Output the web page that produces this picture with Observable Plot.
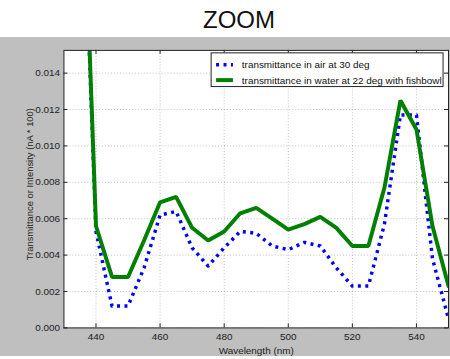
<!DOCTYPE html>
<html>
<head>
<meta charset="utf-8">
<script src="https://cdn.jsdelivr.net/npm/d3@7"></script>
<script src="https://cdn.jsdelivr.net/npm/@observablehq/plot@0.6"></script>
<style>
  html, body { margin: 0; padding: 0; background: #fff; }
  #wrap { position: relative; width: 450px; height: 359px; overflow: hidden; background: #fff; font-family: "Liberation Sans", Arial, sans-serif; }
  #title { position: absolute; left: 0; top: 0; width: 478px; height: 37px; text-align: center; font-size: 24px; line-height: 24px; padding-top: 8px; box-sizing: border-box; color: #111; }
  #chart { position: absolute; left: 0; top: 37px; }
</style>
</head>
<body>
<div id="wrap">
  <div id="title">ZOOM</div>
  <div id="chart"></div>
</div>
<script>
// Measured spectra, wavelength in nm
const wavelengths = [435, 440, 445, 450, 455, 460, 465, 470, 475, 480, 485, 490, 495, 500, 505, 510, 515, 520, 525, 530, 535, 540, 545, 550];
const airValues   = [0.0290, 0.0053, 0.0012, 0.0012, 0.0033, 0.0062, 0.0064, 0.0044, 0.0034, 0.0044, 0.0053, 0.0052, 0.0045, 0.0043, 0.0047, 0.0045, 0.0033, 0.0023, 0.0023, 0.0057, 0.0117, 0.0117, 0.0038, 0.0005];
const waterValues = [0.0300, 0.0056, 0.0028, 0.0028, 0.0048, 0.0069, 0.0072, 0.0055, 0.0048, 0.0053, 0.0063, 0.0066, 0.0060, 0.0054, 0.0057, 0.0061, 0.0055, 0.0045, 0.0045, 0.0077, 0.0125, 0.0109, 0.0056, 0.0023];

const seriesNames = ["transmittance in air at 30 deg", "transmittance in water at 22 deg with fishbowl"];
const xTicks = [440, 460, 480, 500, 520, 540];
const yTicks = [0, 0.002, 0.004, 0.006, 0.008, 0.010, 0.012, 0.014];
const xLabel = "Wavelength (nm)";
const yLabel = "Transmittance or Intensity (nA * 100)";

const air = wavelengths.map((w, i) => ({w, v: airValues[i]}));
const water = wavelengths.map((w, i) => ({w, v: waterValues[i]}));

const W = 454, H = 322;
const mTop = 13, mBottom = 29, mLeft = 64, mRight = 2;
const innerH = H - mTop - mBottom, innerW = W - mLeft - mRight;
const gridStyle = {stroke: "#b0b0b0", strokeOpacity: 1, strokeWidth: 0.8, strokeDasharray: "1,2"};
const tickLen = 4;
const airDash = "3,4.5";

const chart = Plot.plot({
  width: W,
  height: H,
  marginTop: mTop,
  marginBottom: mBottom,
  marginLeft: mLeft,
  marginRight: mRight,
  style: {background: "#bfbfbf", fontFamily: "'Liberation Sans', Arial, sans-serif", fontSize: "10px", color: "#222"},
  x: {domain: [430, 550]},
  y: {domain: [0, 0.01525]},
  marks: [
    Plot.frame({fill: "white", stroke: null}),
    Plot.gridX(xTicks, gridStyle),
    Plot.gridY(yTicks, gridStyle),
    Plot.lineY(air, {x: "w", y: "v", stroke: "#0000ff", strokeWidth: 3.5, strokeDasharray: airDash, strokeLinecap: "butt", clip: true}),
    Plot.lineY(water, {x: "w", y: "v", stroke: "#008000", strokeWidth: 4, strokeLinejoin: "miter", clip: true}),
    // inward tick marks on all four sides
    Plot.ruleX(xTicks, {x: d => d, insetTop: innerH - tickLen, stroke: "#222"}),
    Plot.ruleX(xTicks, {x: d => d, insetBottom: innerH - tickLen, stroke: "#222"}),
    Plot.ruleY(yTicks, {y: d => d, insetRight: innerW - tickLen, stroke: "#222"}),
    Plot.ruleY(yTicks, {y: d => d, insetLeft: innerW - tickLen, stroke: "#222"}),
    Plot.axisX(xTicks, {tickSize: 0, tickPadding: 5, fontSize: 10, fill: "#222", label: null}),
    Plot.axisY(yTicks, {tickSize: 0, tickPadding: 4, fontSize: 10, fill: "#222", tickFormat: d3.format(".3f"), label: null}),
    Plot.text([xLabel], {frameAnchor: "bottom", lineAnchor: "middle", dy: 23, fontSize: 10, fill: "#222"}),
    Plot.text([yLabel], {frameAnchor: "left", textAnchor: "middle", lineAnchor: "middle", dx: -34, dy: -5, rotate: -90, fontSize: 9.5, fill: "#222"}),
    Plot.frame({stroke: "#222", strokeWidth: 1})
  ]
});

document.getElementById("chart").appendChild(chart);

// Legend box in the upper right corner of the axes
const svg = d3.select(chart);
const lg = svg.append("g")
  .attr("font-family", "'Liberation Sans', Arial, sans-serif")
  .attr("font-size", 10)
  .attr("text-anchor", "start")
  .attr("fill", "#111");
const boxX = 213, boxY = 16, boxW = 234, boxH = 34;
lg.append("rect").attr("x", boxX).attr("y", boxY).attr("width", boxW).attr("height", boxH)
  .attr("fill", "white").attr("stroke", "#222").attr("stroke-width", 1);
const rows = [
  {name: seriesNames[0], stroke: "#0000ff", width: 3.5, dash: airDash},
  {name: seriesNames[1], stroke: "#008000", width: 4, dash: null}
];
rows.forEach((r, i) => {
  const cy = boxY + 12 + i * 15.5;
  lg.append("line").attr("x1", boxX + 5).attr("x2", boxX + 22).attr("y1", cy).attr("y2", cy)
    .attr("stroke", r.stroke).attr("stroke-width", r.width).attr("stroke-dasharray", r.dash);
  lg.append("text").attr("x", boxX + 31).attr("y", cy).attr("dy", "0.35em").text(r.name);
});
</script>
</body>
</html>
